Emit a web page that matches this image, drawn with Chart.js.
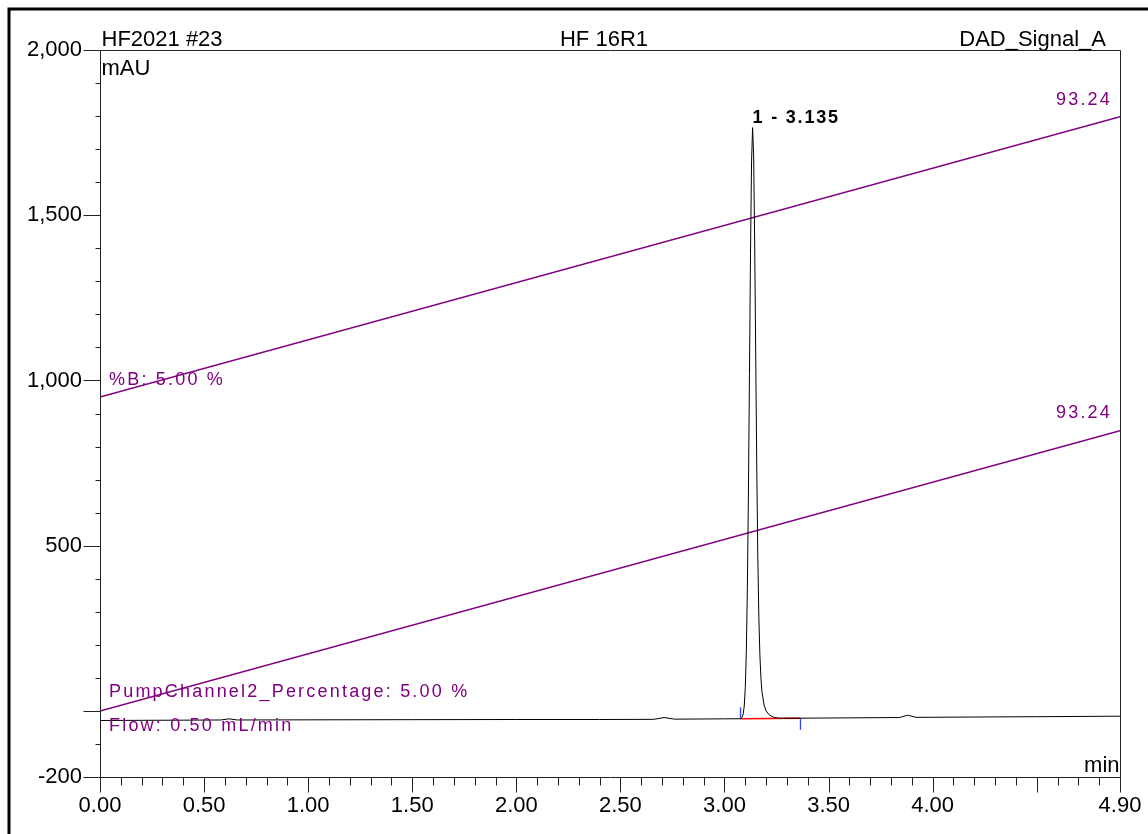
<!DOCTYPE html>
<html>
<head>
<meta charset="utf-8">
<title>HF2021 #23 - HF 16R1</title>
<script src="https://cdn.jsdelivr.net/npm/chart.js@4.4.0/dist/chart.umd.min.js"></script>
<style>
  html, body { margin: 0; padding: 0; background: #fff; }
  #wrap { width: 1148px; height: 834px; }
</style>
</head>
<body>
<div id="wrap"><canvas id="chromChart" width="1148" height="834"></canvas></div>
<script>
// --- Data ---
const timeMin = [
  0.00, 0.20, 0.40, 0.58, 0.62, 0.66, 1.00, 1.50, 2.00, 2.40, 2.66, 2.71, 2.76, 3.00,
  3.077, 3.085, 3.090, 3.095, 3.100, 3.105, 3.110, 3.115, 3.120, 3.125, 3.130, 3.135,
  3.140, 3.145, 3.150, 3.155, 3.160, 3.165, 3.170, 3.175, 3.180, 3.190, 3.200, 3.215,
  3.235, 3.260, 3.365, 3.60, 3.84, 3.88, 3.92, 4.20, 4.50, 4.90
];
const signalMau = [
  -29, -28.5, -28, -27.5, -24, -27.5, -27, -26.5, -26, -26, -25.5, -20, -25, -24,
  -23.6, -19, -9, 15, 71, 182, 374, 662, 1021, 1385, 1662, 1765,
  1682, 1415, 1080, 740, 470, 285, 170, 100, 58, 18, 0, -12,
  -19, -22, -22, -21, -20, -13, -19.5, -18.5, -17.5, -16
];
const gradientTime = [0, 4.9];
const percentB = [950, 1798];
const pumpChannel2 = [0, 848];
const integrationTime = [3.077, 3.365];
const integrationBase = [-23.6, -22];
const startMarker = [-23.6, 11];
const endMarker = [-22, -57];

const xTickLabels = ['0.00', '0.50', '1.00', '1.50', '2.00', '2.50', '3.00', '3.50', '4.00', '4.90'];
const xMajorTicks = [0, 0.5, 1, 1.5, 2, 2.5, 3, 3.5, 4, 4.5, 4.9];
const yTickLabels = ['-200', '500', '1,000', '1,500', '2,000'];
const yMajorTicks = [-200, 0, 500, 1000, 1500, 2000];

const PURPLE = '#800080';
const FONT = "'Liberation Sans', Arial, sans-serif";

// --- Helpers ---
const near = (a, b) => Math.abs(a - b) < 1e-6;
const toPoints = (xs, ys) => xs.map((x, i) => ({ x: x, y: ys[i] }));
const findLabel = (labels, value) => labels.find(l => near(parseFloat(l.replace(/,/g, '')), value)) || '';

// --- Frame, axes, ticks and texts ---
const chromeleonPlugin = {
    id: 'chromeleon',
    beforeDraw(chart) {
        const ctx = chart.ctx;
        ctx.save();
        ctx.fillStyle = '#fff';
        ctx.fillRect(0, 0, chart.width, chart.height);
        ctx.strokeStyle = '#000';
        ctx.lineWidth = 3;
        ctx.strokeRect(9, 9, chart.width + 20, chart.height + 20);
        ctx.restore();
    },
    afterDraw(chart) {
        const ctx = chart.ctx;
        const xs = chart.scales.x, ys = chart.scales.y;
        const area = chart.chartArea;
        const L = Math.round(area.left) + 0.5, R = Math.round(area.right) + 0.5;
        const T = Math.round(area.top) + 0.5, B = Math.round(area.bottom) + 0.5;

        ctx.save();
        ctx.strokeStyle = '#222';
        ctx.lineWidth = 1;
        ctx.beginPath();
        ctx.moveTo(L, T); ctx.lineTo(R, T);
        ctx.moveTo(L, T); ctx.lineTo(L, B);
        ctx.moveTo(L, B); ctx.lineTo(R, B);
        ctx.moveTo(R, T); ctx.lineTo(R, B);

        xs.ticks.forEach(t => {
            const px = Math.round(xs.getPixelForValue(t.value)) + 0.5;
            const len = xMajorTicks.some(v => near(v, t.value)) ? 15 : 8;
            ctx.moveTo(px, B); ctx.lineTo(px, B + len);
        });
        ys.ticks.forEach(t => {
            const py = Math.round(ys.getPixelForValue(t.value)) + 0.5;
            const len = yMajorTicks.some(v => near(v, t.value)) ? 17 : 5;
            ctx.moveTo(L - len, py); ctx.lineTo(L, py);
        });
        ctx.stroke();

        // header texts
        ctx.fillStyle = '#000';
        ctx.font = '22px ' + FONT;
        ctx.textBaseline = 'alphabetic';
        ctx.textAlign = 'left';
        ctx.fillText('HF2021 #23', L + 1, 46);
        ctx.fillText('mAU', L + 1, 75);
        ctx.textAlign = 'center';
        ctx.fillText('HF 16R1', 604, 46);
        ctx.textAlign = 'right';
        ctx.fillText('DAD_Signal_A', 1106, 46);
        ctx.fillText('min', R - 1, 772);

        // peak label
        ctx.font = 'bold 18px ' + FONT;
        ctx.letterSpacing = '1.8px';
        ctx.textAlign = 'left';
        ctx.textBaseline = 'middle';
        ctx.fillText('1 - 3.135', xs.getPixelForValue(3.135), ys.getPixelForValue(1765) - 10);

        // gradient annotations
        ctx.font = '18px ' + FONT;
        ctx.letterSpacing = '2.2px';
        ctx.fillStyle = PURPLE;
        const x0 = xs.getPixelForValue(gradientTime[0]) + 9;
        const x1 = xs.getPixelForValue(gradientTime[1]) - 8;
        ctx.textAlign = 'right';
        ctx.fillText('93.24', x1, ys.getPixelForValue(percentB[1]) - 17);
        ctx.fillText('93.24', x1, ys.getPixelForValue(pumpChannel2[1]) - 18);
        ctx.textAlign = 'left';
        ctx.fillText('%B: 5.00 %', x0, ys.getPixelForValue(percentB[0]) - 17);
        ctx.fillText('PumpChannel2_Percentage: 5.00 %', x0, ys.getPixelForValue(pumpChannel2[0]) - 19);
        ctx.fillText('Flow: 0.50 mL/min', x0, ys.getPixelForValue(pumpChannel2[0]) + 15);
        ctx.restore();
    }
};

// --- Chart ---
const initializeChromatogram = () => {
    const ctx = document.getElementById('chromChart').getContext('2d');
    Chart.defaults.font.family = FONT;
    Chart.defaults.font.size = 22;
    Chart.defaults.color = '#000';

    const lineStyle = (color, width) => ({
        borderColor: color, borderWidth: width, pointRadius: 0,
        tension: 0, fill: false, showLine: true
    });

    new Chart(ctx, {
        type: 'scatter',
        data: {
            datasets: [
                { label: '%B', data: toPoints(gradientTime, percentB), ...lineStyle(PURPLE, 1.5), order: 5 },
                { label: 'PumpChannel2', data: toPoints(gradientTime, pumpChannel2), ...lineStyle(PURPLE, 1.5), order: 4 },
                { label: 'Baseline', data: toPoints(integrationTime, integrationBase), ...lineStyle('#ff0000', 1.5), order: 3 },
                { label: 'Start', data: toPoints([integrationTime[0], integrationTime[0]], startMarker), ...lineStyle('#3344ff', 1.3), order: 2 },
                { label: 'End', data: toPoints([integrationTime[1], integrationTime[1]], endMarker), ...lineStyle('#3344ff', 1.3), order: 2 },
                { label: 'DAD_Signal_A', data: toPoints(timeMin, signalMau), ...lineStyle('#000', 1), order: 1 }
            ]
        },
        options: {
            responsive: false,
            animation: false,
            devicePixelRatio: 1,
            events: [],
            layout: { padding: { top: 50, right: 28, left: 0, bottom: 0 } },
            plugins: { legend: { display: false }, tooltip: { enabled: false } },
            scales: {
                x: {
                    type: 'linear', min: 0, max: 4.9,
                    grid: { display: false, drawTicks: false },
                    border: { display: false },
                    ticks: {
                        stepSize: 0.1, autoSkip: false, maxRotation: 0, padding: 16,
                        callback: (v) => findLabel(xTickLabels, v)
                    },
                    afterFit: (scale) => {
                        scale.height = 57;
                        scale.paddingLeft = 0;
                        scale.paddingRight = 0;
                    }
                },
                y: {
                    type: 'linear', min: -200, max: 2000,
                    grid: { display: false, drawTicks: false },
                    border: { display: false },
                    ticks: {
                        stepSize: 100, autoSkip: false, padding: 18,
                        callback: (v) => findLabel(yTickLabels, v)
                    },
                    afterFit: (scale) => {
                        scale.width = 100;
                        scale.paddingTop = 0;
                        scale.paddingBottom = 0;
                    }
                }
            }
        },
        plugins: [chromeleonPlugin]
    });
};

initializeChromatogram();
</script>
</body>
</html>
